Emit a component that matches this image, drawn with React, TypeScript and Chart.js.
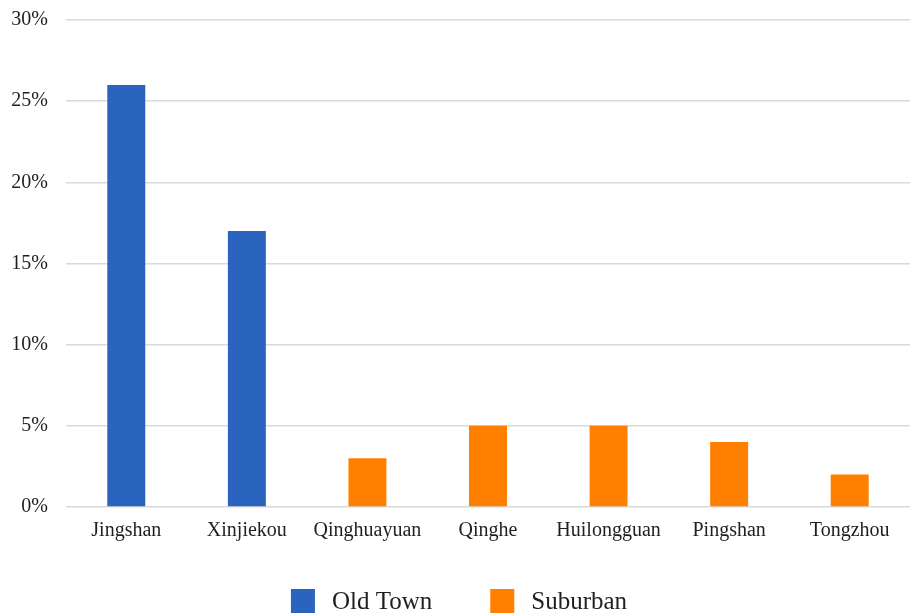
import React, { useEffect, useRef } from "react";
import { Chart, registerables } from "chart.js";

Chart.register(...registerables);

const districts = ["Jingshan", "Xinjiekou", "Qinghuayuan", "Qinghe", "Huilongguan", "Pingshan", "Tongzhou"];
const oldTownShare = [26, 17, null, null, null, null, null];
const suburbanShare = [null, null, 3, 5, 5, 4, 2];
const seriesNames = ["Old Town", "Suburban"];
const seriesColors = ["#2A64BF", "#FF7F00"];

const FONT = "'Liberation Serif', 'Times New Roman', serif";
const TEXT_COLOR = "#1f1f1f";

// Legend row under the axis: square swatch, wider gap before the label.
const bottomLegend = {
  id: "bottomLegend",
  afterDraw(chart: any) {
    const { ctx, width, height } = chart;
    const box = 24;
    const gapBoxText = 17;
    const gapItems = 58;
    const centerY = height - 14;
    ctx.save();
    ctx.font = `25px ${FONT}`;
    ctx.textBaseline = "middle";
    ctx.textAlign = "left";
    const items = chart.data.datasets.map((ds: any) => ({
      text: ds.label as string,
      color: ds.backgroundColor as string,
      w: ctx.measureText(ds.label).width,
    }));
    const total =
      items.reduce((s: number, it: any) => s + box + gapBoxText + it.w, 0) + gapItems * (items.length - 1);
    let x = (width - total) / 2 + 4;
    for (const it of items) {
      ctx.fillStyle = it.color;
      ctx.fillRect(x, centerY - box / 2, box, box);
      ctx.fillStyle = TEXT_COLOR;
      ctx.fillText(it.text, x + box + gapBoxText, centerY + 1);
      x += box + gapBoxText + it.w + gapItems;
    }
    ctx.restore();
  },
};

export default function App() {
  const canvasRef = useRef<HTMLCanvasElement | null>(null);

  useEffect(() => {
    document.body.style.margin = "0";
    const canvas = canvasRef.current;
    if (!canvas) return;
    const chart = new Chart(canvas, {
      type: "bar",
      data: {
        labels: districts,
        datasets: [
          {
            label: seriesNames[0],
            data: oldTownShare,
            backgroundColor: seriesColors[0],
            borderWidth: 0,
          },
          {
            label: seriesNames[1],
            data: suburbanShare,
            backgroundColor: seriesColors[1],
            borderWidth: 0,
          },
        ],
      },
      options: {
        animation: false,
        responsive: false,
        maintainAspectRatio: false,
        layout: { padding: { top: 20, right: 0, left: 0, bottom: 68 } },
        datasets: {
          bar: { categoryPercentage: 1, barPercentage: 0.315 },
        },
        scales: {
          x: {
            stacked: true,
            grid: { display: false, drawTicks: false },
            border: { display: false },
            ticks: {
              color: TEXT_COLOR,
              padding: 12,
              autoSkip: false,
              font: { family: FONT, size: 20 },
              maxRotation: 0,
            },
            afterFit: (scale: any) => {
              scale.height = 40;
              scale.paddingLeft = 0;
              scale.paddingRight = 0;
            },
          },
          y: {
            stacked: true,
            min: 0,
            max: 30,
            grid: { color: "#d9d9d9", lineWidth: 1.5, drawTicks: false },
            border: { display: false },
            ticks: {
              stepSize: 5,
              color: TEXT_COLOR,
              padding: 18,
              font: { family: FONT, size: 20 },
              callback: (v: any) => `${v}%`,
            },
            afterFit: (scale: any) => {
              scale.width = 66;
              scale.paddingTop = 0;
              scale.paddingBottom = 0;
            },
          },
        },
        plugins: {
          legend: { display: false },
          tooltip: { enabled: false },
        },
      },
      plugins: [bottomLegend],
    });
    return () => chart.destroy();
  }, []);

  return (
    <div style={{ width: 910, height: 615, position: "relative" }}>
      <canvas ref={canvasRef} width={910} height={615} style={{ display: "block" }} />
    </div>
  );
}
